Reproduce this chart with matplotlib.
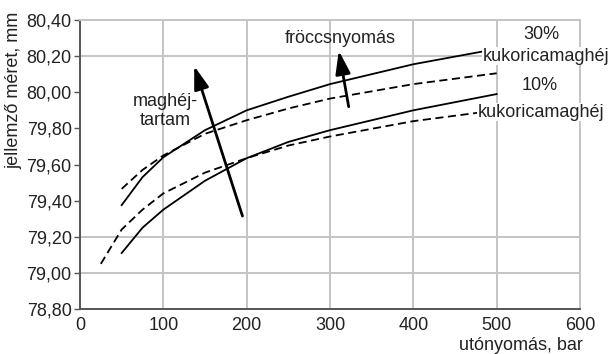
import matplotlib
matplotlib.use("Agg")
import matplotlib.pyplot as plt

plt.rcParams['font.family'] = ['Liberation Sans', 'DejaVu Sans']

# x positions (utónyomás, bar)
x_main = [50, 75, 100, 150, 200, 250, 300, 400, 500]
x_low_dash = [25, 50, 75, 100, 150, 200, 250, 300, 400, 500]

# 30% kukoricamaghéj
y30_solid = [79.375, 79.53, 79.64, 79.79, 79.90, 79.975, 80.045, 80.155, 80.24]
y30_dash = [79.465, 79.57, 79.65, 79.77, 79.845, 79.91, 79.965, 80.045, 80.105]
# 10% kukoricamaghéj
y10_solid = [79.11, 79.25, 79.35, 79.51, 79.635, 79.725, 79.79, 79.90, 79.99]
y10_dash = [79.05, 79.24, 79.35, 79.44, 79.555, 79.635, 79.705, 79.755, 79.84, 79.90]

xticks = [0, 100, 200, 300, 400, 500, 600]
yticks = [78.8, 79.0, 79.2, 79.4, 79.6, 79.8, 80.0, 80.2, 80.4]
ytick_labels = ['78,80', '79,00', '79,20', '79,40', '79,60', '79,80', '80,00', '80,20', '80,40']
grid_y = [79.0, 79.2, 80.2]

fig = plt.figure(figsize=(6.11, 3.54), dpi=100)
ax = fig.add_axes([80 / 611, 1 - 309 / 354, 500 / 611, 289 / 354])

grid_col = '#c4c4c4'
for gx in xticks[1:]:
    ax.axvline(gx, color=grid_col, lw=1.4, zorder=0)
for gy in grid_y:
    ax.axhline(gy, color=grid_col, lw=1.4, zorder=0)

ax.plot(x_main, y30_solid, color='black', lw=1.3, zorder=3)
ax.plot(x_main, y30_dash, color='black', lw=1.3, ls=(0, (4.5, 2.5)), zorder=3)
ax.plot(x_main, y10_solid, color='black', lw=1.3, zorder=3)
ax.plot(x_low_dash, y10_dash, color='black', lw=1.3, ls=(0, (4.5, 2.5)), zorder=3)

ax.set_xlim(0, 600)
ax.set_ylim(78.8, 80.4)
ax.set_xticks(xticks)
ax.set_yticks(yticks)
ax.set_yticklabels(ytick_labels)
ax.tick_params(axis='both', labelsize=13, colors='#222222')
ax.tick_params(axis='y', length=4, width=1, color='#555555', pad=2)
ax.tick_params(axis='x', length=0, pad=6)

for side in ['top', 'right']:
    ax.spines[side].set_color(grid_col)
    ax.spines[side].set_linewidth(1.4)
for side in ['left', 'bottom']:
    ax.spines[side].set_color('#555555')
    ax.spines[side].set_linewidth(1.4)

# arrows
arrow_kw = dict(arrowstyle='-|>,head_length=1.4,head_width=0.45', color='black', lw=2)
ax.annotate('', xy=(136, 80.16), xytext=(196, 79.30), arrowprops=arrow_kw, zorder=5)
ax.annotate('', xy=(310, 80.245), xytext=(323, 79.905), arrowprops=arrow_kw, zorder=5)

fs = 13
ax.text(102, 79.895, 'maghéj-\ntartam', ha='center', va='center', fontsize=fs,
        linespacing=1.15, color='#222222')
ax.text(312, 80.30, 'fröccsnyomás', ha='center', va='center', fontsize=fs, color='#222222')

box = dict(facecolor='white', edgecolor='none', pad=0.5)
ax.text(554, 80.32, '30%', ha='center', va='center', fontsize=fs, color='#222222',
        bbox=box, zorder=6, clip_on=False)
ax.text(559, 80.20, 'kukoricamaghéj', ha='center', va='center', fontsize=fs, color='#222222',
        bbox=box, zorder=6, clip_on=False)
ax.text(552, 80.04, '10%', ha='center', va='center', fontsize=fs, color='#222222',
        bbox=box, zorder=6, clip_on=False)
ax.text(553, 79.89, 'kukoricamaghéj', ha='center', va='center', fontsize=fs, color='#222222',
        bbox=box, zorder=6, clip_on=False)

fig.text(14 / 611, 1 - 90 / 354, 'jellemző méret, mm', rotation=90, ha='center', va='center',
         fontsize=fs, color='#222222')
fig.text(583 / 611, 1 - 345 / 354, 'utónyomás, bar', ha='right', va='center',
         fontsize=fs, color='#222222')

fig.savefig('out.png', dpi=100)
